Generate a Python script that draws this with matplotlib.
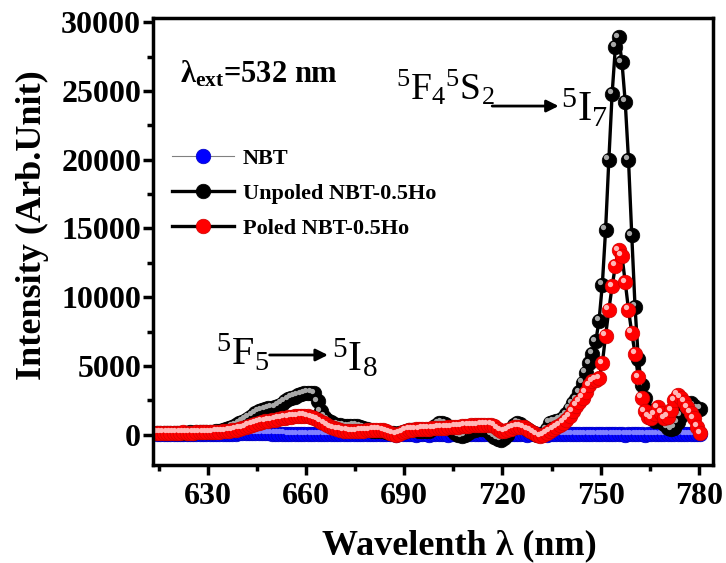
import numpy as np
import matplotlib.pyplot as plt
from matplotlib import transforms
from matplotlib.ticker import MultipleLocator

plt.rcParams['font.family'] = 'Liberation Serif'
plt.rcParams['font.weight'] = 'bold'
plt.rcParams['mathtext.fontset'] = 'custom'
plt.rcParams['mathtext.rm'] = 'Liberation Serif:weight=normal'
plt.rcParams['mathtext.it'] = 'Liberation Serif:italic:weight=normal'
plt.rcParams['mathtext.bf'] = 'Liberation Serif:weight=bold'

# wavelength grid, 1 nm step
wavelength = np.arange(614.5, 781)

nbt = [
    40, 50, 40, 30, 40, 50, 40, 50, 40, 30,
    40, 50, 60, 50, 40, 50, 60, 60, 70, 60,
    70, 80, 80, 90, 90, 100, 100, 110, 110, 120,
    120, 120, 110, 110, 100, 90, 80, 70, 60, 60,
    50, 50, 40, 50, 40, 40, 50, 40, 30, 40,
    40, 50, 40, 30, 40, 50, 40, 50, 40, 30,
    40, 50, 40, 30, 40, 50, 40, 50, 40, 30,
    30, 40, 30, 20, 30, 40, 30, 40, 30, 20,
    30, 40, 30, 20, 30, 40, 30, 40, 30, 20,
    30, 40, 50, 40, 30, 40, 50, 40, 30, 40,
    40, 50, 40, 30, 40, 50, 40, 50, 40, 30,
    30, 40, 30, 20, 30, 40, 30, 40, 30, 20,
    30, 40, 50, 40, 30, 40, 50, 40, 30, 40,
    40, 50, 40, 30, 40, 50, 40, 50, 40, 30,
    30, 40, 30, 20, 30, 40, 30, 40, 30, 20,
    30, 40, 50, 40, 30, 40, 50, 40, 30, 40,
    40, 50, 40, 30, 40, 50, 40,
]

unpoled = [
    150, 160, 150, 140, 150, 160, 150, 140, 150, 160,
    170, 160, 170, 180, 170, 180, 200, 220, 250, 290,
    340, 400, 480, 580, 700, 830, 960, 1100, 1250, 1400,
    1550, 1700, 1800, 1870, 1920, 1960, 2000, 2100, 2250, 2420,
    2580, 2700, 2780, 2860, 2950, 3020, 3050, 3050, 3030, 2450,
    1700, 1300, 1090, 900, 780, 730, 680, 650, 630, 620,
    640, 650, 600, 500, 400, 320, 280, 260, 250, 240,
    200, 150, 100, 60, 100, 200, 280, 320, 340, 330,
    300, 260, 250, 300, 450, 650, 820, 870, 800, 600,
    350, 150, -50, -100, -50, 100, 250, 350, 420, 450,
    400, 250, 50, -150, -300, -360, -250, -50, 400, 700,
    870, 800, 600, 400, 250, 100, 0, -50, 50, 400,
    870, 950, 1000, 1100, 1250, 1500, 1900, 2300, 2600, 3100,
    3800, 4500, 5200, 5900, 6800, 8300, 10900, 14900, 20000, 24800,
    28200, 28900, 27100, 24200, 20000, 14500, 9300, 5500, 3600, 2700,
    1800, 1200, 1000, 1100, 1000, 800, 500, 400, 500, 900,
    1400, 1800, 2100, 2300, 2100, 1900, 1900,
]

poled = [
    150, 140, 150, 160, 150, 140, 150, 160, 170, 160,
    150, 160, 170, 180, 170, 180, 190, 200, 210, 220,
    240, 260, 290, 330, 380, 430, 490, 560, 640, 720,
    800, 870, 930, 980, 1030, 1070, 1110, 1150, 1190, 1230,
    1270, 1300, 1330, 1360, 1380, 1370, 1340, 1280, 1200, 1090,
    960, 820, 680, 560, 470, 400, 350, 310, 280, 260,
    250, 260, 280, 300, 320, 330, 350, 360, 350, 320,
    250, 150, 60, 20, 80, 200, 300, 350, 380, 400,
    420, 430, 440, 450, 470, 490, 500, 510, 520, 540,
    560, 580, 600, 620, 640, 660, 680, 690, 700, 720,
    730, 740, 730, 640, 450, 280, 250, 330, 430, 530,
    600, 600, 530, 420, 300, 160, 20, -120, -50, 100,
    250, 400, 550, 700, 870, 1100, 1350, 1700, 2100, 2400,
    2700, 3100, 3600, 3900, 4000, 4100, 5200, 7200, 9100, 10800,
    12300, 13400, 13000, 11100, 9100, 7400, 5900, 4200, 2700, 1700,
    1300, 1200, 1500, 2000, 1600, 1200, 1300, 1800, 2500, 2900,
    2700, 2400, 2000, 1600, 1200, 600, 100,
]

fig = plt.figure(figsize=(7.26, 5.63), dpi=100)
ax = fig.add_axes([0.2107, 0.174, 0.7713, 0.794])

# small offset copy for the shiny highlight on the balls
hl = transforms.offset_copy(ax.transData, fig=fig, x=-1.8, y=1.8, units='points')

ax.plot(wavelength, nbt, '-o', color='#808080', lw=0.8, ms=10.5,
        mfc='#0000ff', mec='#0000c0', mew=0.5, label='NBT')
ax.plot(wavelength, nbt, 'o', ms=3.8, color='#8080ff', mew=0, transform=hl)
ax.plot(wavelength, unpoled, '-o', color='black', lw=2.4, ms=10.5,
        mfc='black', mec='black', mew=0.5, label='Unpoled NBT-0.5Ho')
ax.plot(wavelength, unpoled, 'o', ms=3.8, color='#a8a8a8', mew=0, transform=hl)
ax.plot(wavelength, poled, '-o', color='black', lw=2.4, ms=10.5,
        mfc='#ff0000', mec='#d00000', mew=0.5, label='Poled NBT-0.5Ho')
ax.plot(wavelength, poled, 'o', ms=3.8, color='#ffb8b8', mew=0, transform=hl)

ax.set_xlim(613.2, 784.3)
ax.set_ylim(-2200, 30300)
ax.set_xticks([630, 660, 690, 720, 750, 780])
ax.set_yticks([0, 5000, 10000, 15000, 20000, 25000, 30000])
ax.xaxis.set_minor_locator(MultipleLocator(15))
ax.yaxis.set_minor_locator(MultipleLocator(2500))
ax.tick_params(which='both', direction='out', width=2.5, top=False, right=False)
ax.tick_params(which='major', length=7, labelsize=23)
ax.tick_params(axis='y', which='major', pad=1.5)
ax.tick_params(axis='x', which='major', pad=5)
ax.tick_params(which='minor', length=4)
for s in ax.spines.values():
    s.set_linewidth(2.5)

ax.set_xlabel('Wavelenth λ (nm)', fontsize=26, fontweight='bold')
ax.xaxis.label.set_va('center')
ax.xaxis.set_label_coords(0.548, -0.180)
ax.set_ylabel('Intensity (Arb.Unit)', fontsize=26, fontweight='bold')
ax.yaxis.label.set_va('center')
ax.yaxis.set_label_coords(-0.215, 0.537)

ax.legend(loc='upper left', bbox_to_anchor=(0.034, 0.708), frameon=False,
          fontsize=16, handlelength=2.8, handletextpad=0.4, labelspacing=0.65,
          borderpad=0, borderaxespad=0)

ax.text(621.5, 25600, r'λ$_{\mathbf{ext}}$=532 nm', fontsize=22, fontweight='bold',
        ha='left', va='baseline')

# 5F4 5S2 -> 5I7
ax.text(687.5, 24400, r'$^{5}\mathrm{F}_{4}{}^{5}\mathrm{S}_{2}$', fontsize=27,
        ha='left', va='baseline')
ax.annotate('', xy=(738, 23900), xytext=(716, 23900),
            arrowprops=dict(arrowstyle='-|>', color='black', lw=2, mutation_scale=18))
ax.text(737.8, 22800, r'$^{5}\mathrm{I}_{7}$', fontsize=31, ha='left', va='baseline')

# 5F5 -> 5I8
ax.text(632.6, 5080, r'$^{5}\mathrm{F}_{5}$', fontsize=29, ha='left', va='baseline')
ax.annotate('', xy=(667.5, 5800), xytext=(648, 5800),
            arrowprops=dict(arrowstyle='-|>', color='black', lw=2, mutation_scale=18))
ax.text(667.8, 4600, r'$^{5}\mathrm{I}_{8}$', fontsize=30, ha='left', va='baseline')

fig.savefig('out.png', dpi=100)
